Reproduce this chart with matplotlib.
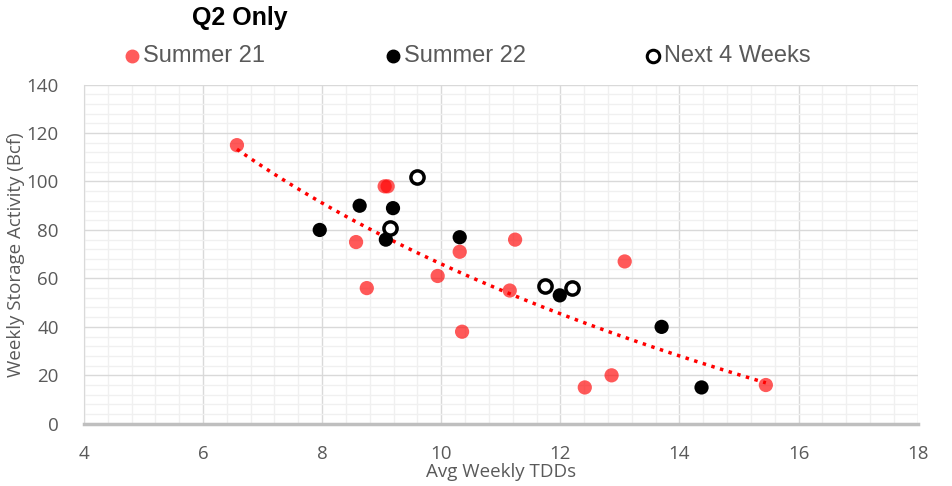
import numpy as np
import matplotlib
matplotlib.use("Agg")
import matplotlib.pyplot as plt
from matplotlib.ticker import MultipleLocator
from matplotlib import font_manager

# Summer 21 (red)
s21_x = [6.57, 9.05, 9.10, 8.57, 8.75, 9.94, 10.31, 10.35, 11.24, 11.15, 13.08, 12.41, 12.86, 15.45]
s21_y = [115, 98, 98, 75, 56, 61, 71, 38, 76, 55, 67, 15, 20, 16]

# Summer 22 (black)
s22_x = [7.96, 8.63, 9.19, 9.07, 10.31, 11.99, 13.70, 14.37]
s22_y = [80, 90, 89, 76, 77, 53, 40, 15]

# Next 4 weeks (open circles)
nxt_x = [9.59, 9.14, 11.74, 12.19]
nxt_y = [102, 81, 57, 56]

grey = "#595959"
names = {f.name for f in font_manager.fontManager.ttflist}
narrow = "Liberation Sans Narrow" if "Liberation Sans Narrow" in names else "Liberation Sans"
plt.rcParams["font.family"] = ["Open Sans", "DejaVu Sans"]

fig = plt.figure(figsize=(9.53, 4.86), dpi=100)
ax = fig.add_axes([0.088, 0.128, 0.875, 0.698])

ax.set_xlim(4, 18)
ax.set_ylim(0, 140)
ax.xaxis.set_major_locator(MultipleLocator(2))
ax.xaxis.set_minor_locator(MultipleLocator(0.4))
ax.yaxis.set_major_locator(MultipleLocator(20))
ax.yaxis.set_minor_locator(MultipleLocator(4))
ax.grid(which="major", color="#d9d9d9", linewidth=1)
ax.grid(which="minor", color="#f0f0f0", linewidth=1)
ax.set_axisbelow(True)

for s in ["top", "right"]:
    ax.spines[s].set_visible(False)
ax.spines["left"].set_color("#d9d9d9")
ax.spines["bottom"].set_color("#bfbfbf")
ax.spines["bottom"].set_linewidth(2.5)
ax.tick_params(which="both", length=0)
ax.tick_params(labelsize=13.5, labelcolor=grey)
ax.tick_params(axis="x", pad=15)
ax.tick_params(axis="y", pad=18)

# logarithmic trend line on Summer 21
b, a = np.polyfit(np.log(s21_x), s21_y, 1)
tx = np.linspace(min(s21_x), max(s21_x), 100)
ax.plot(tx, a + b * np.log(tx), color="red", linestyle=(0, (1, 1.6)), linewidth=2.5, zorder=2)

ax.scatter(s21_x, s21_y, s=105, color="#ff0000", alpha=0.65, edgecolors="none", zorder=3)
ax.scatter(s22_x, s22_y, s=105, color="black", edgecolors="none", zorder=4)
ax.scatter(nxt_x, nxt_y, s=90, facecolors="white", edgecolors="black", linewidths=2.5, zorder=5)

ax.set_xlabel("Avg Weekly TDDs", fontsize=13.5, color=grey, labelpad=0)
ax.set_ylabel("Weekly Storage Activity (Bcf)", fontsize=13.5, color=grey, labelpad=1)

fig.text(0.252, 0.962, "Q2 Only", fontsize=18, fontweight="bold", ha="center", va="center",
         family=narrow)

leg = [("Summer 21", dict(color="#ff5b5b"), 0.138),
       ("Summer 22", dict(color="black"), 0.412),
       ("Next 4 Weeks", dict(color="white", markeredgecolor="black", markeredgewidth=2.2), 0.685)]
for label, kw, x in leg:
    fig.lines.append(plt.Line2D([x], [0.884], marker="o", markersize=9, transform=fig.transFigure, **kw))
    fig.text(x + 0.012, 0.884, label, fontsize=17, color=grey, va="center", ha="left",
             family=narrow)

fig.savefig("out.png", dpi=100)
